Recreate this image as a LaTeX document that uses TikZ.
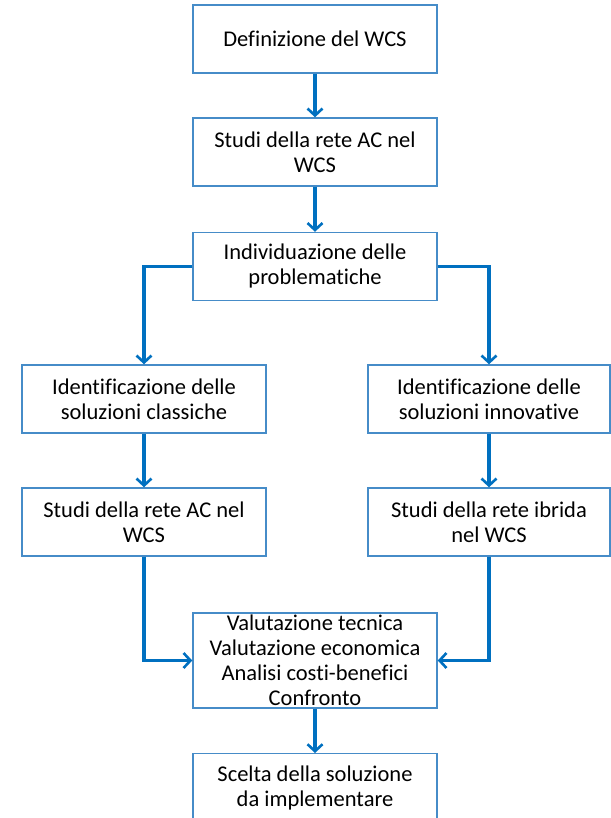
\documentclass[tikz,border=0pt]{standalone}
\usepackage{fontspec}
\setmainfont[Ligatures=NoCommon]{Carlito}
\usetikzlibrary{arrows.meta}
\definecolor{arrowblue}{RGB}{0,112,192}
\definecolor{boxblue}{RGB}{70,140,200}
\begin{document}
\begin{tikzpicture}[x=1pt,y=-1pt,
  box/.style={draw=boxblue,line width=1.4pt,fill=white,minimum width=244pt,minimum height=68pt,inner sep=0pt,align=center,font=\fontsize{22.5}{25}\selectfont},
  flow/.style={draw=arrowblue,line width=3.2pt,-{Straight Barb[length=7pt,width=15pt,line width=2.6pt]}}]
\useasboundingbox (0,0) rectangle (610,818);
\node[box] (b1) at (315,39) {Definizione del WCS};
\node[box] (b2) at (315,152) {Studi della rete AC nel\\WCS};
\node[box] (b3) at (315,266.5) {Individuazione delle\\problematiche};
\node[box] (b4) at (144,399) {Identificazione delle\\soluzioni classiche};
\node[box,minimum width=242pt] (b5) at (489,399) {Identificazione delle\\soluzioni innovative};
\node[box] (b6) at (144,522) {Studi della rete AC nel\\WCS};
\node[box,minimum width=242pt] (b7) at (489,522) {Studi della rete ibrida\\nel WCS};
\node[box,minimum height=95pt] (b8) at (315,660.5) {Valutazione tecnica\\Valutazione economica\\Analisi costi-benefici\\Confronto};
\node[box,minimum height=70pt,anchor=north] (b9) at (315,753) {};
\node[font=\fontsize{22.5}{25}\selectfont,align=center] (t9) at (315,788) {Scelta della soluzione\\da implementare};
\draw[flow] (b1) -- (b2);
\draw[flow] (b2) -- (b3);
\draw[flow] (b3.west) -| (b4.north);
\draw[flow] (b3.east) -| (b5.north);
\draw[flow] (b4) -- (b6);
\draw[flow] (b5) -- (b7);
\draw[flow] (b6.south) |- (b8.west);
\draw[flow] (b7.south) |- (b8.east);
\draw[flow] (b8) -- (b9);
\end{tikzpicture}
\end{document}
